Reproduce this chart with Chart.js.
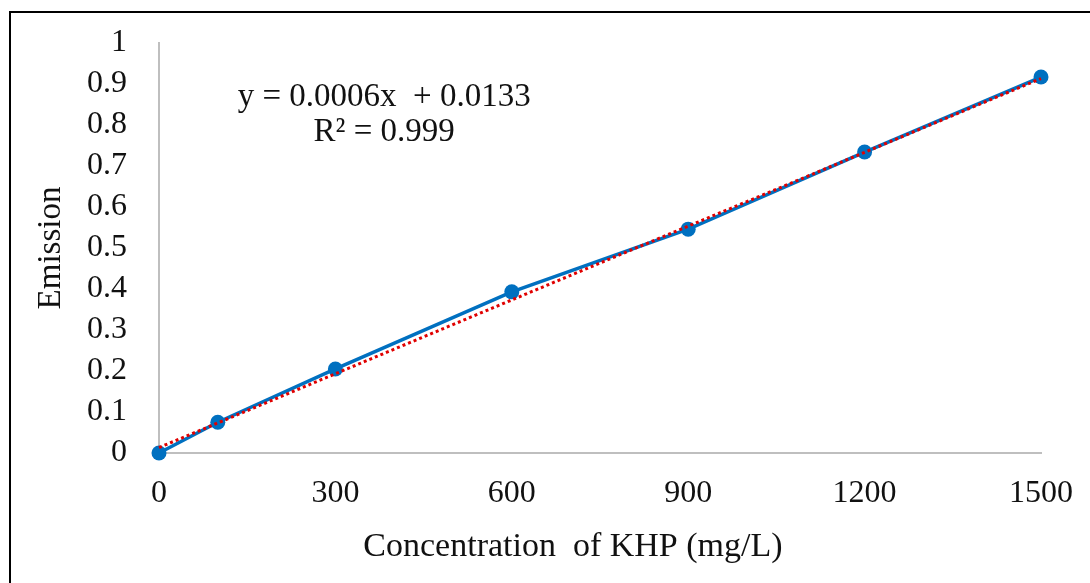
<!DOCTYPE html>
<html>
<head>
<meta charset="utf-8">
<script src="https://cdn.jsdelivr.net/npm/chart.js@4/dist/chart.umd.min.js"></script>
<style>
  body { margin: 0; background: #fff; }
  #frame { position: absolute; left: 9px; top: 11px; width: 1200px; height: 700px;
           border-left: 2px solid #000; border-top: 2px solid #000; }
  #myChart { position: absolute; left: 0; top: 0; }
</style>
</head>
<body>
<div id="frame"></div>
<canvas id="myChart" width="1090" height="583"></canvas>
<script>
// KHP calibration data
const concentration = [0, 100, 300, 600, 900, 1200, 1500];
const emission = [0, 0.075, 0.205, 0.393, 0.546, 0.734, 0.917];

// trendline as printed on the chart
const slope = 0.0006;
const intercept = 0.0133;
const trendX = [0, 1500];
const equationText = 'y = 0.0006x  + 0.0133';
const r2Text = 'R² = 0.999';
const xTitle = 'Concentration  of KHP (mg/L)';

const font = 'Liberation Serif, Times New Roman, serif';
const textColor = '#111';

const labels = {
  id: 'labels',
  afterDraw(chart) {
    const ctx = chart.ctx;
    const x = chart.scales.x.getPixelForValue(383);
    ctx.save();
    ctx.font = '33px ' + font;
    ctx.fillStyle = textColor;
    ctx.textAlign = 'center';
    ctx.textBaseline = 'middle';
    ctx.fillText(equationText, x, chart.scales.y.getPixelForValue(0.868));
    ctx.fillText(r2Text, x, chart.scales.y.getPixelForValue(0.783));
    // axis title sits a bit left of the axis centre in the original
    ctx.font = '34px ' + font;
    ctx.fillText(xTitle, chart.scales.x.getPixelForValue(704), chart.scales.x.bottom - 36);
    ctx.restore();
  }
};

new Chart(document.getElementById('myChart').getContext('2d'), {
  type: 'scatter',
  data: {
    datasets: [{
      label: 'Trend',
      data: trendX.map(x => ({x: x, y: slope * x + intercept})),
      showLine: true,
      borderColor: '#e00000',
      borderWidth: 3,
      borderDash: [3, 3],
      pointRadius: 0,
      clip: false,
      order: 0
    }, {
      label: 'Emission',
      data: concentration.map((c, i) => ({x: c, y: emission[i]})),
      showLine: true,
      borderColor: '#0070c0',
      backgroundColor: '#0070c0',
      borderWidth: 3.5,
      pointRadius: 7.5,
      pointBorderWidth: 0,
      clip: false,
      order: 1
    }]
  },
  options: {
    responsive: false,
    animation: false,
    layout: { autoPadding: false, padding: { top: 43, right: 49, bottom: 0, left: 0 } },
    plugins: { legend: { display: false }, tooltip: { enabled: false } },
    scales: {
      x: {
        type: 'linear', min: 0, max: 1500,
        // hidden tick marks give the label gap without padding the chart area
        grid: { display: false, drawTicks: true, tickLength: 21 },
        border: { color: '#bfbfbf', width: 2 },
        ticks: { stepSize: 300, padding: 0, color: textColor, font: { family: font, size: 32 },
                 autoSkip: false, maxRotation: 0, callback: v => String(v) },
        afterFit(s) { s.height = 130; }
      },
      y: {
        min: 0, max: 1,
        grid: { display: false, drawTicks: true, tickLength: 32 },
        border: { color: '#bfbfbf', width: 2 },
        ticks: { stepSize: 0.1, padding: 0, color: textColor, font: { family: font, size: 32 },
                 autoSkip: false, callback: v => String(v) },
        title: { display: true, text: 'Emission', color: textColor,
                 font: { family: font, size: 33 }, padding: { top: 32, bottom: 0 } },
        afterFit(s) { s.width = 159; }
      }
    }
  },
  plugins: [labels]
});
</script>
</body>
</html>
